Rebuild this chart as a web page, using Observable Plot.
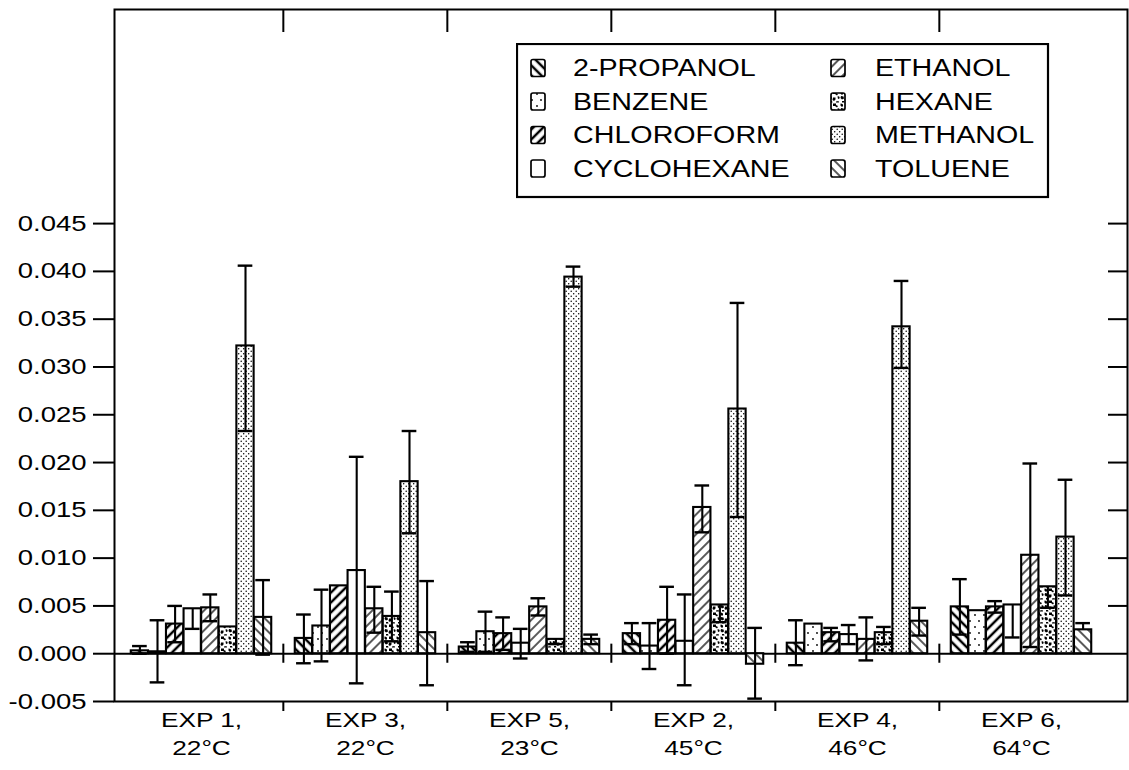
<!DOCTYPE html>
<html>
<head>
<meta charset="utf-8">
<script src="https://cdn.jsdelivr.net/npm/d3@7"></script>
<script src="https://cdn.jsdelivr.net/npm/@observablehq/plot@0.6"></script>
<style>
  body { margin: 0; background: #fff; }
  #wrap { position: relative; width: 1129px; height: 770px; overflow: hidden; }
  #wrap svg text { font-family: 'Liberation Sans', Arial, Helvetica, sans-serif; }
</style>
</head>
<body>
<svg width="0" height="0" style="position:absolute">
  <defs>
    <!-- 2-PROPANOL: bold back-slash hatching -->
    <pattern id="pat0" patternUnits="userSpaceOnUse" width="7" height="7" patternTransform="rotate(-45)">
      <rect width="7" height="7" fill="white"/>
      <line x1="2" y1="0" x2="2" y2="7" stroke="black" stroke-width="2.5"/>
    </pattern>
    <!-- BENZENE: sparse dots -->
    <pattern id="pat1" patternUnits="userSpaceOnUse" width="9" height="12">
      <rect width="9" height="12" fill="white"/>
      <circle cx="3" cy="3" r="0.9" fill="black"/>
      <circle cx="7" cy="9" r="0.9" fill="black"/>
    </pattern>
    <!-- CHLOROFORM: bold slash hatching -->
    <pattern id="pat2" patternUnits="userSpaceOnUse" width="7" height="7" patternTransform="rotate(45)">
      <rect width="7" height="7" fill="white"/>
      <line x1="2" y1="0" x2="2" y2="7" stroke="black" stroke-width="2.5"/>
    </pattern>
    <!-- CYCLOHEXANE: empty -->
    <pattern id="pat3" patternUnits="userSpaceOnUse" width="8" height="8">
      <rect width="8" height="8" fill="white"/>
    </pattern>
    <!-- ETHANOL: thin slash hatching -->
    <pattern id="pat4" patternUnits="userSpaceOnUse" width="7" height="7" patternTransform="rotate(45)">
      <rect width="7" height="7" fill="white"/>
      <line x1="2" y1="0" x2="2" y2="7" stroke="black" stroke-width="1.3"/>
    </pattern>
    <!-- HEXANE: blotchy texture -->
    <pattern id="pat5" patternUnits="userSpaceOnUse" width="12" height="12">
      <rect width="12" height="12" fill="white"/>
      <path d="M0.5 0.5c2 0 3 1 2.5 2.5s-2 0.5-2.5 -0.5z M5 0.5h3v1.5l2 1-1 1.5-2-1.5h-2z M9.5 5.5c1.5-0.5 2.5 0.5 2 2l-1.5 0.5z M1 5l2.5 0.5 0.5 2-2 1-1.5-1.5z M5 6.5h2.5v2l-1.5 1.5-1.5-1z M2 10h2l0.5 1.5h-2.5z M8 10.5l2.5-0.5 0.5 1.5h-3z" fill="black"/>
    </pattern>
    <!-- METHANOL: dense stipple -->
    <pattern id="pat6" patternUnits="userSpaceOnUse" width="5" height="5">
      <rect width="5" height="5" fill="white"/>
      <circle cx="1.2" cy="1.2" r="0.75" fill="black"/>
      <circle cx="3.7" cy="3.7" r="0.75" fill="black"/>
    </pattern>
    <!-- TOLUENE: thin back-slash hatching -->
    <pattern id="pat7" patternUnits="userSpaceOnUse" width="7" height="7" patternTransform="rotate(-45)">
      <rect width="7" height="7" fill="white"/>
      <line x1="2" y1="0" x2="2" y2="7" stroke="black" stroke-width="1.3"/>
    </pattern>
  </defs>
</svg>
<div id="wrap"></div>
<script>
// ---------- data ----------
const groups = ["EXP 1", "EXP 3", "EXP 5", "EXP 2", "EXP 4", "EXP 6"];
const temps = ["22°C", "22°C", "23°C", "45°C", "46°C", "64°C"];
const solvents = ["2-PROPANOL", "BENZENE", "CHLOROFORM", "CYCLOHEXANE", "ETHANOL", "HEXANE", "METHANOL", "TOLUENE"];

// order within each array follows `solvents`
const exp1Mean = [0.0003, 0.0002, 0.0031, 0.0047, 0.0048, 0.0028, 0.0322, 0.0038];
const exp1Low  = [0.0000, -0.0030, 0.0012, 0.0026, 0.0034, 0.0028, 0.0233, -0.0001];
const exp1High = [0.0008, 0.0035, 0.0050, 0.0047, 0.0062, 0.0028, 0.0406, 0.0077];

const exp3Mean = [0.0016, 0.0029, 0.0071, 0.0087, 0.0047, 0.0039, 0.0180, 0.0022];
const exp3Low  = [-0.0010, -0.0008, 0.0071, -0.0031, 0.0022, 0.0013, 0.0126, -0.0033];
const exp3High = [0.0041, 0.0067, 0.0071, 0.0206, 0.0070, 0.0065, 0.0233, 0.0076];

const exp5Mean = [0.0007, 0.0023, 0.0021, 0.0011, 0.0049, 0.0015, 0.0394, 0.0015];
const exp5Low  = [0.0002, 0.0002, 0.0004, -0.0005, 0.0040, 0.0010, 0.0384, 0.0010];
const exp5High = [0.0012, 0.0044, 0.0038, 0.0026, 0.0058, 0.0015, 0.0405, 0.0020];

const exp2Mean = [0.0021, 0.0008, 0.0035, 0.0013, 0.0153, 0.0051, 0.0256, -0.0011];
const exp2Low  = [0.0010, -0.0016, 0.0000, -0.0033, 0.0127, 0.0033, 0.0143, -0.0047];
const exp2High = [0.0032, 0.0032, 0.0070, 0.0062, 0.0176, 0.0051, 0.0367, 0.0027];

const exp4Mean = [0.0011, 0.0031, 0.0022, 0.0020, 0.0015, 0.0022, 0.0342, 0.0034];
const exp4Low  = [-0.0012, 0.0031, 0.0013, 0.0010, -0.0007, 0.0010, 0.0299, 0.0019];
const exp4High = [0.0035, 0.0031, 0.0027, 0.0030, 0.0038, 0.0028, 0.0390, 0.0048];

const exp6Mean = [0.0049, 0.0045, 0.0049, 0.0051, 0.0103, 0.0070, 0.0122, 0.0025];
const exp6Low  = [0.0020, 0.0045, 0.0043, 0.0017, 0.0007, 0.0048, 0.0061, 0.0025];
const exp6High = [0.0078, 0.0045, 0.0055, 0.0051, 0.0199, 0.0070, 0.0182, 0.0032];

const yTicks = [-0.005, 0.000, 0.005, 0.010, 0.015, 0.020, 0.025, 0.030, 0.035, 0.040, 0.045];
const rightTicks = [0.005, 0.010, 0.015, 0.020, 0.025, 0.030, 0.035, 0.040, 0.045];

// ---------- table ----------
const means = [exp1Mean, exp3Mean, exp5Mean, exp2Mean, exp4Mean, exp6Mean];
const lows = [exp1Low, exp3Low, exp5Low, exp2Low, exp4Low, exp6Low];
const highs = [exp1High, exp3High, exp5High, exp2High, exp4High, exp6High];
const rows = groups.flatMap((g, gi) => solvents.map((s, si) => ({
  group: g, solvent: s, si, mean: means[gi][si], low: lows[gi][si], high: highs[gi][si]
})));

// ---------- layout ----------
const W = 1129, H = 770;
const xRange = [118, 1104];
const bw = (xRange[1] - xRange[0]) / groups.length;
const barW = 17.6;
const barInset = (bw - barW) / 2;
const capW = 15;
const capInset = (bw - capW) / 2;

const marks = [];
marks.push(Plot.ruleY([0], {strokeWidth: 2}));
marks.push(Plot.ruleX(groups.slice(1), {x: d => d, y1: -0.001, y2: 0.001, dx: -bw / 2, strokeWidth: 2}));

solvents.forEach((s, si) => {
  const data = rows.filter(d => d.si === si);
  const off = (si - 3.5) * barW;
  marks.push(Plot.barY(data, {
    x: "group", y1: 0, y2: "mean",
    fill: `url(#pat${si})`, stroke: "black", strokeWidth: 2.1,
    insetLeft: barInset + off, insetRight: barInset - off
  }));
});
solvents.forEach((s, si) => {
  const data = rows.filter(d => d.si === si);
  const off = (si - 3.5) * barW;
  marks.push(Plot.ruleX(data.filter(d => d.high > d.low), {
    x: "group", y1: "low", y2: "high", dx: off, stroke: "black", strokeWidth: 2.1
  }));
  marks.push(Plot.tickY(data.filter(d => d.high !== d.mean), {
    x: "group", y: "high", stroke: "black", strokeWidth: 2.4,
    insetLeft: capInset + off, insetRight: capInset - off
  }));
  marks.push(Plot.tickY(data.filter(d => d.low !== d.mean), {
    x: "group", y: "low", stroke: "black", strokeWidth: 2.4,
    insetLeft: capInset + off, insetRight: capInset - off
  }));
});

marks.push(Plot.axisY(yTicks, {anchor: "left", tickSize: 21, tickPadding: 7, strokeWidth: 2,
  tickFormat: d => d.toFixed(3), fontSize: 22, label: null}));
marks.push(Plot.axisY(rightTicks, {anchor: "right", tickSize: -20, strokeWidth: 2,
  tickFormat: () => "", label: null}));
marks.push(Plot.axisX(groups.slice(1), {anchor: "top", tickSize: -22, dx: -bw / 2, strokeWidth: 2,
  tickFormat: () => "", label: null}));
marks.push(Plot.axisX(groups.slice(1), {anchor: "bottom", tickSize: 10, dx: -bw / 2, strokeWidth: 2,
  tickFormat: () => "", label: null}));
marks.push(Plot.axisX(groups, {anchor: "bottom", tickSize: 0, tickPadding: 6, fontSize: 21, lineHeight: 1.33,
  tickFormat: d => `${d},\n${temps[groups.indexOf(d)]}`, label: null}));
marks.push(Plot.frame({strokeWidth: 2}));

const plot = Plot.plot({
  width: W, height: H,
  marginLeft: 114, marginRight: 2, marginTop: 9, marginBottom: 69,
  x: {type: "band", domain: groups, range: xRange, padding: 0, axis: null},
  y: {domain: [-0.005, 0.0674], axis: null, label: null},
  style: {fontFamily: "'Liberation Sans', Arial, sans-serif", background: "white", color: "black", overflow: "visible"},
  marks
});

// horizontally widen text, as in the scanned original
plot.querySelectorAll("text").forEach(t => {
  const tr = t.getAttribute("transform") || "";
  t.setAttribute("transform", tr + " scale(1.25,1)");
});

const wrap = document.getElementById("wrap");
wrap.appendChild(plot);

// ---------- legend ----------
const leg = d3.select(wrap).append("svg")
  .attr("width", 534).attr("height", 156)
  .style("position", "absolute").style("left", "516px").style("top", "43px");
leg.append("rect").attr("x", 1).attr("y", 1).attr("width", 531).attr("height", 153)
  .attr("fill", "white").attr("stroke", "black").attr("stroke-width", 2.2);
solvents.forEach((s, i) => {
  const col = Math.floor(i / 4), row = i % 4;
  const cy = 25 + row * 33.5;
  const sx = col ? 315 : 15;
  const tx = col ? 359 : 57;
  leg.append("rect").attr("x", sx).attr("y", cy - 8.5).attr("width", 14).attr("height", 17).attr("rx", 2)
    .attr("fill", `url(#pat${i})`).attr("stroke", "black").attr("stroke-width", 1.7);
  leg.append("text").attr("transform", `translate(${tx},${cy}) scale(1.22,1)`)
    .attr("dy", "0.36em").attr("font-size", 23.5).attr("fill", "black").text(s);
});
</script>
</body>
</html>
